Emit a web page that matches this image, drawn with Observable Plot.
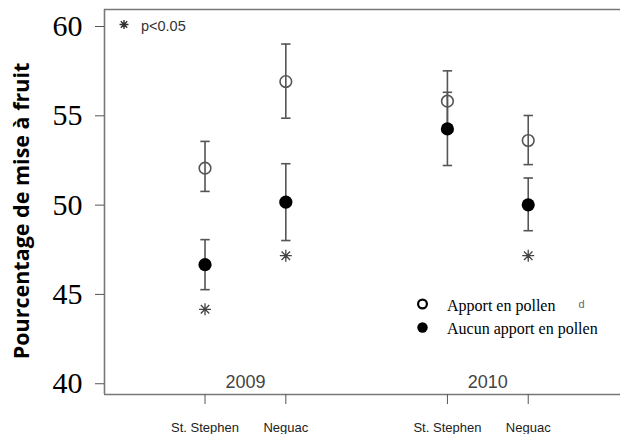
<!DOCTYPE html>
<html>
<head>
<meta charset="utf-8">
<script src="https://cdn.jsdelivr.net/npm/d3@7"></script>
<script src="https://cdn.jsdelivr.net/npm/@observablehq/plot@0.6"></script>
<style>
  html, body { margin: 0; padding: 0; background: #fff; }
  #chart svg { display: block; }
</style>
</head>
<body>
<div id="chart"></div>
<script>
// ---- data ----
const years = [2009, 2010];
const sites = ["St. Stephen", "Neguac"];
// order: 2009 St. Stephen, 2009 Neguac, 2010 St. Stephen, 2010 Neguac
const pollenMean = [51.9, 56.75, 55.65, 53.45];
const pollenLow  = [50.6, 54.7, 53.95, 52.1];
const pollenHigh = [53.4, 58.85, 57.35, 54.85];
const noPollenMean = [46.5, 50.0, 54.1, 49.85];
const noPollenLow  = [45.1, 47.85, 52.05, 48.4];
const noPollenHigh = [47.9, 52.15, 56.15, 51.35];
const signifMark = [44.0, 47.0, null, 47.0];
const yTicks = [40, 45, 50, 55, 60];
const legendLabels = ["Apport en pollen", "Aucun apport en pollen"];
const yLabel = "Pourcentage de mise à fruit";
const pNote = "p<0.05";

// ---- build table ----
const rows = [];
years.forEach((yr, yi) => sites.forEach((s, si) => {
  const i = yi * sites.length + si;
  rows.push({year: yr, site: s, pos: yi * (sites.length + 1) + si + 1,
    pm: pollenMean[i], pl: pollenLow[i], ph: pollenHigh[i],
    nm: noPollenMean[i], nl: noPollenLow[i], nh: noPollenHigh[i],
    sig: signifMark[i]});
}));
const tickPos = rows.map(d => d.pos);
const tickName = new Map(rows.map(d => [d.pos, d.site]));
const yearCenters = years.map((yr, yi) => ({year: String(yr), pos: d3.mean(rows.filter(r => r.year === yr), r => r.pos)}));

const xDomain = [-0.244, 6.142];
const yDomain = [39.23, 60.784];

const capSymbol = {draw(ctx, size) { const w = Math.sqrt(size / Math.PI); ctx.moveTo(-w, 0); ctx.lineTo(w, 0); }};
const starSymbol = {draw(ctx, size) {
  const r = Math.sqrt(size / Math.PI), d = r * Math.SQRT1_2;
  ctx.moveTo(-r, 0); ctx.lineTo(r, 0);
  ctx.moveTo(0, -r); ctx.lineTo(0, r);
  ctx.moveTo(-d, -d); ctx.lineTo(d, d);
  ctx.moveTo(-d, d); ctx.lineTo(d, -d);
}};

const barColor = "#555";
const serif = "'Liberation Serif', 'Times New Roman', serif";
const chart = Plot.plot({
  width: 620,
  height: 434,
  marginLeft: 104,
  marginRight: 0,
  marginTop: 9,
  marginBottom: 40,
  style: {fontFamily: "'Liberation Sans', Arial, sans-serif", background: "#fff", overflow: "visible"},
  x: {type: "linear", domain: xDomain},
  y: {domain: yDomain},
  marks: [
    // frame (left, top, bottom)
    Plot.ruleX([xDomain[0]], {stroke: "#777", strokeWidth: 1.6}),
    Plot.ruleY([yDomain[0], yDomain[1]], {stroke: "#777", strokeWidth: 1.6}),
    // axes
    Plot.axisY({ticks: yTicks, tickSize: 9, tickPadding: 13, label: null, stroke: "#555",
      fill: "#000", fontFamily: serif, fontSize: 30, dy: 3}),
    Plot.axisX({ticks: tickPos, tickFormat: d => tickName.get(d), tickSize: 10, tickPadding: 18, label: null,
      stroke: "#555", fill: "#222", fontSize: 13, letterSpacing: "0.5px", fontFamily: "'Liberation Sans', Arial, sans-serif"}),
    // y label
    Plot.text([yLabel], {frameAnchor: "left", textAnchor: "middle", lineAnchor: "middle", rotate: -90, dx: -82.7, dy: 9, fontSize: 21.5,
      fontWeight: "bold", fontFamily: "'Open Sans', sans-serif", fill: "#000"}),
    // year labels
    Plot.text(yearCenters, {x: "pos", text: "year", frameAnchor: "bottom", lineAnchor: "middle", dy: -12, fontSize: 18, fill: "#444"}),
    // error bars: pollen
    Plot.ruleX(rows, {x: "pos", y1: "pl", y2: "ph", stroke: barColor, strokeWidth: 1.6}),
    Plot.dot(rows, {x: "pos", y: "pl", symbol: capSymbol, r: 4.7, stroke: barColor, strokeWidth: 1.6}),
    Plot.dot(rows, {x: "pos", y: "ph", symbol: capSymbol, r: 4.7, stroke: barColor, strokeWidth: 1.6}),
    // error bars: no pollen
    Plot.ruleX(rows, {x: "pos", y1: "nl", y2: "nh", stroke: barColor, strokeWidth: 1.6}),
    Plot.dot(rows, {x: "pos", y: "nl", symbol: capSymbol, r: 4.7, stroke: barColor, strokeWidth: 1.6}),
    Plot.dot(rows, {x: "pos", y: "nh", symbol: capSymbol, r: 4.7, stroke: barColor, strokeWidth: 1.6}),
    // means
    Plot.dot(rows, {x: "pos", y: "pm", r: 5.8, stroke: "#555", strokeWidth: 1.6, fill: "none"}),
    Plot.dot(rows, {x: "pos", y: "nm", r: 6.6, fill: "#000", stroke: "none"}),
    // significance asterisks
    Plot.dot(rows.filter(d => d.sig != null), {x: "pos", y: "sig", symbol: starSymbol, r: 6, stroke: "#444", strokeWidth: 1.3}),
    // p note
    Plot.dot([pNote], {frameAnchor: "top-left", dx: 19.5, dy: 15, symbol: starSymbol, r: 4.5, stroke: "#333", strokeWidth: 1.4}),
    Plot.text([pNote], {frameAnchor: "top-left", lineAnchor: "middle", dx: 36.5, dy: 17, textAnchor: "start", fontSize: 14.5, fill: "#333"}),
    // legend
    Plot.dot([legendLabels[0]], {frameAnchor: "top-left", dx: 318, dy: 294.5, r: 4.4, stroke: "#000", strokeWidth: 2.2, fill: "none"}),
    Plot.dot([legendLabels[1]], {frameAnchor: "top-left", dx: 318, dy: 318, r: 5.2, fill: "#000"}),
    Plot.text([legendLabels[0]], {frameAnchor: "top-left", lineAnchor: "middle", dx: 342.5, dy: 296.6, textAnchor: "start", fontSize: 16,
      fontFamily: serif, fill: "#000"}),
    Plot.text([legendLabels[1]], {frameAnchor: "top-left", lineAnchor: "middle", dx: 342.5, dy: 319.2, textAnchor: "start", fontSize: 16,
      fontFamily: serif, fill: "#000"}),
    Plot.text(["d"], {frameAnchor: "top-left", lineAnchor: "middle", dx: 474, dy: 295, textAnchor: "start", fontSize: 11, fill: "#666"})
  ]
});
document.getElementById("chart").appendChild(chart);
</script>
</body>
</html>
